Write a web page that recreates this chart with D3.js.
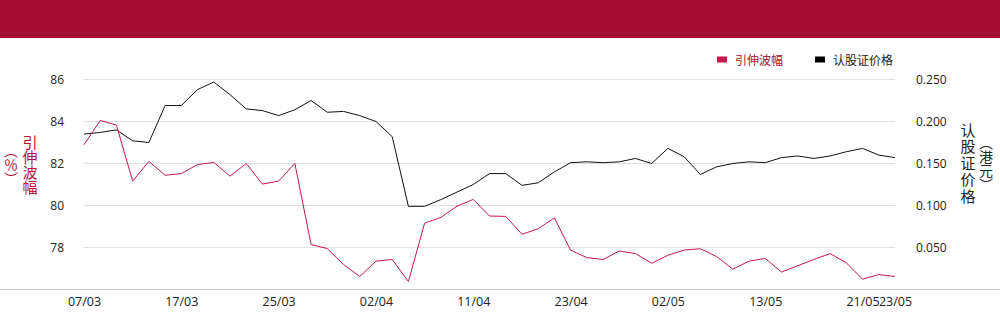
<!DOCTYPE html>
<html>
<head>
<meta charset="utf-8">
<script src="https://cdn.jsdelivr.net/npm/d3@7"></script>
<style>
  html, body { margin: 0; padding: 0; background: #fff; }
  svg { display: block; }
  text { font-family: "Open Sans", "Noto Sans", sans-serif; }
  .cjk { font-family: "Noto Sans CJK SC", sans-serif; }
  .vert { font-family: "Noto Sans CJK SC", sans-serif; writing-mode: vertical-rl; }
</style>
</head>
<body>
<svg id="chart" width="1000" height="324"></svg>
<script>
const dates = ["07/03","10/03","11/03","12/03","13/03","14/03","17/03","18/03","19/03","20/03",
  "21/03","24/03","25/03","26/03","27/03","28/03","31/03","01/04","02/04","03/04",
  "07/04","08/04","09/04","10/04","11/04","14/04","15/04","16/04","17/04","22/04",
  "23/04","24/04","25/04","28/04","29/04","30/04","02/05","06/05","07/05","08/05",
  "09/05","12/05","13/05","14/05","15/05","16/05","19/05","20/05","21/05","22/05","23/05"];

const volatility = [82.89, 84.05, 83.83, 81.16, 82.10, 81.44, 81.52, 81.95, 82.05, 81.40,
  82.00, 81.02, 81.16, 82.00, 78.14, 77.95, 77.19, 76.62, 77.35, 77.43,
  76.38, 79.16, 79.43, 79.97, 80.29, 79.50, 79.48, 78.63, 78.89, 79.41,
  77.87, 77.52, 77.43, 77.83, 77.71, 77.25, 77.63, 77.88, 77.94, 77.57,
  76.97, 77.35, 77.48, 76.83, 77.13, 77.43, 77.71, 77.27, 76.49, 76.71, 76.62];

const warrantPrice = [0.185, 0.187, 0.190, 0.177, 0.175, 0.219, 0.219, 0.238, 0.247, 0.232,
  0.215, 0.213, 0.207, 0.214, 0.225, 0.211, 0.212, 0.207, 0.200, 0.182,
  0.099, 0.099, 0.107, 0.116, 0.125, 0.138, 0.138, 0.124, 0.127, 0.140,
  0.151, 0.152, 0.151, 0.152, 0.156, 0.150, 0.168, 0.158, 0.137, 0.146,
  0.150, 0.152, 0.151, 0.157, 0.159, 0.156, 0.159, 0.164, 0.168, 0.160, 0.157];

const xTickLabels = ["07/03","17/03","25/03","02/04","11/04","23/04","02/05","13/05","21/05","23/05"];
const leftTicks = [78, 80, 82, 84, 86];
const rightTicks = [0.05, 0.10, 0.15, 0.20, 0.25];
const seriesNames = ["引伸波幅", "认股证价格"];
const leftTitle = ["引伸波幅", "（％）"];
const rightTitle = ["认股证价格", "（港元）"];

const RED = "#a50d32";
const LINE_RED = "#c3194b";
const TITLE_RED = "#b5123d";

const svg = d3.select("#chart");

// header band
svg.append("rect").attr("x", 0).attr("y", 0).attr("width", 1000).attr("height", 38).attr("fill", RED);

const x = d3.scalePoint().domain(dates).range([84, 895]);
const yL = d3.scaleLinear().domain([76, 86]).range([289.5, 79.5]);
const yR = d3.scaleLinear().domain([0, 0.25]).range([289.5, 79.5]);

// gridlines
svg.append("g").selectAll("line").data(leftTicks).join("line")
  .attr("x1", 84).attr("x2", 895)
  .attr("y1", d => yL(d)).attr("y2", d => yL(d))
  .attr("stroke", "#e0e0e0").attr("stroke-width", 1);

// baseline
svg.append("line").attr("x1", 0).attr("x2", 1000)
  .attr("y1", yL(76)).attr("y2", yL(76))
  .attr("stroke", "#cccccc").attr("stroke-width", 1);

// left axis
const leftAxis = d3.axisLeft(yL).tickValues(leftTicks).tickSize(0).tickPadding(0).tickFormat(d3.format("d"));
const gL = svg.append("g").attr("transform", "translate(64,0)").call(leftAxis);
gL.select(".domain").remove();
gL.selectAll("text").attr("font-size", 12).attr("fill", "#222").attr("font-family", "'Open Sans', sans-serif");

// right axis
const rightAxis = d3.axisRight(yR).tickValues(rightTicks).tickSize(0).tickPadding(0).tickFormat(d3.format(".3f"));
const gR = svg.append("g").attr("transform", "translate(916,0)").call(rightAxis);
gR.select(".domain").remove();
gR.selectAll("text").attr("font-size", 12).attr("fill", "#222").attr("font-family", "'Open Sans', sans-serif");

// bottom axis
const bottomAxis = d3.axisBottom(x).tickValues(xTickLabels).tickSize(0).tickPadding(0);
const gB = svg.append("g").attr("transform", "translate(0,297)").call(bottomAxis);
gB.select(".domain").remove();
gB.selectAll("text").attr("font-size", 12.5).attr("fill", "#222").attr("font-family", "'Open Sans', sans-serif");

// lines
const lineL = d3.line().x((d, i) => x(dates[i])).y(d => yL(d));
const lineR = d3.line().x((d, i) => x(dates[i])).y(d => yR(d));

svg.append("path").datum(warrantPrice).attr("d", lineR)
  .attr("fill", "none").attr("stroke", "#111").attr("stroke-width", 1);
svg.append("path").datum(volatility).attr("d", lineL)
  .attr("fill", "none").attr("stroke", LINE_RED).attr("stroke-width", 1);

// legend
const legend = svg.append("g");
const legItems = [
  {name: seriesNames[0], color: LINE_RED, text: RED, x: 717},
  {name: seriesNames[1], color: "#000", text: "#222", x: 815}
];
legItems.forEach(it => {
  legend.append("rect").attr("x", it.x).attr("y", 56.5).attr("width", 10).attr("height", 6).attr("fill", it.color);
  legend.append("text").attr("class", "cjk").attr("x", it.x + 18).attr("y", 59.5)
    .attr("dominant-baseline", "central").attr("font-size", 12).attr("fill", it.text).text(it.name);
});

// vertical axis titles (single text per column, vertical writing)
function vcol(str, cx, cy, color, size, spacing) {
  svg.append("text").attr("class", "vert")
    .attr("x", cx).attr("y", cy)
    .attr("text-anchor", "middle")
    .attr("font-size", size)
    .attr("letter-spacing", spacing || 0)
    .attr("fill", color).text(str);
}
vcol(leftTitle[0], 30, 165, TITLE_RED, 15, 0.3);
vcol(leftTitle[1], 11, 164.5, TITLE_RED, 14, 0);
vcol(rightTitle[0], 968, 164, "#222", 15, 1.5);
vcol(rightTitle[1], 986, 164, "#222", 14, 0);
</script>
</body>
</html>
